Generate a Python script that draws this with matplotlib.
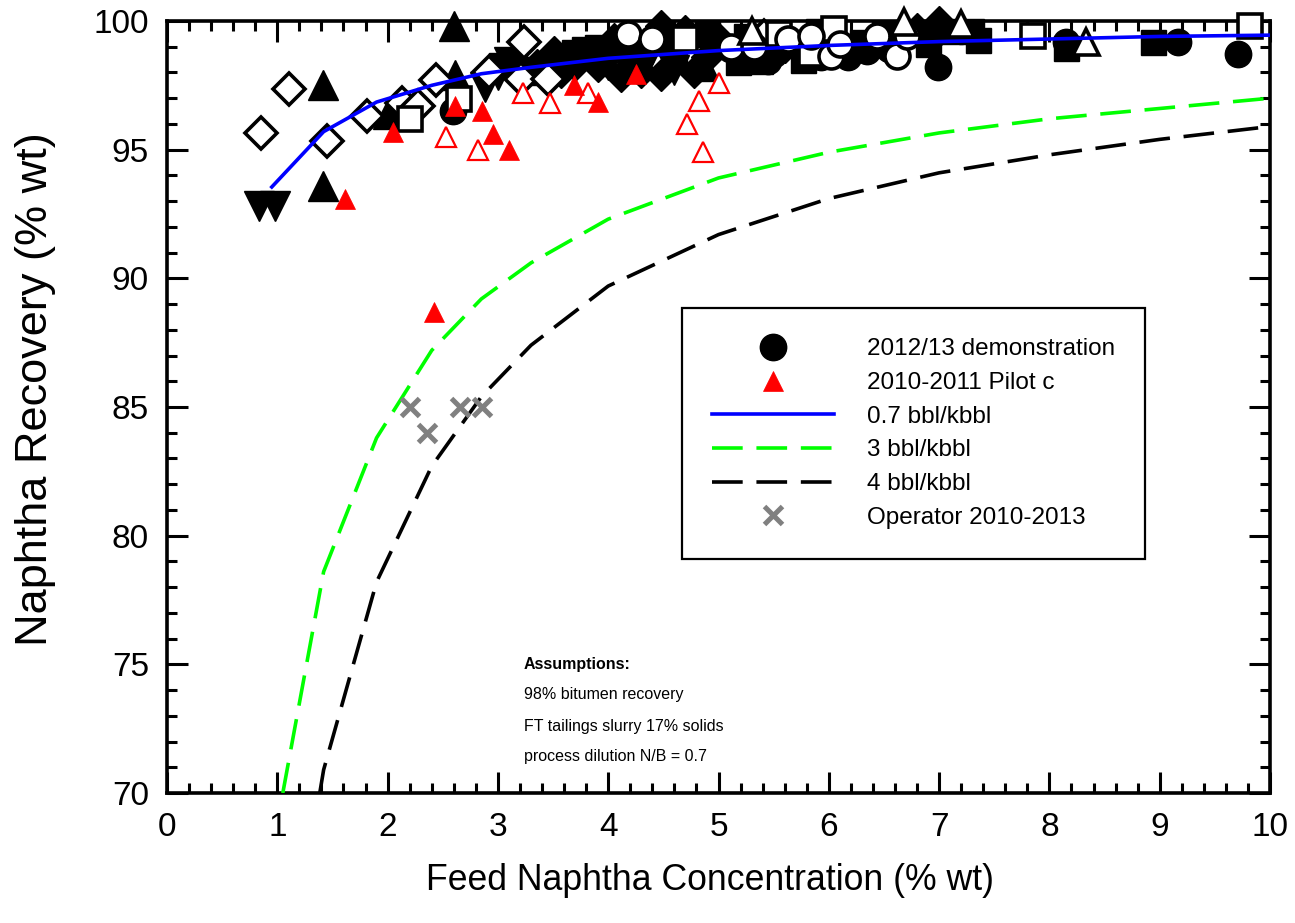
import matplotlib
matplotlib.use("Agg")
import matplotlib.pyplot as plt
from matplotlib.lines import Line2D

plt.rcParams['font.family'] = ['Liberation Sans', 'DejaVu Sans']

# ---------------- data ----------------
# model curves
blue_x = [0.95, 1.42, 1.9, 2.4, 2.85, 3.3, 4.0, 5.0, 6.0, 7.0, 8.0, 9.0, 10.0]
blue_y = [93.55, 95.7, 96.85, 97.5, 97.95, 98.2, 98.55, 98.85, 99.05, 99.2, 99.3, 99.4, 99.45]
green_x = [1.05, 1.42, 1.9, 2.4, 2.85, 3.3, 4.0, 5.0, 6.0, 7.0, 8.0, 9.0, 10.0]
green_y = [70.0, 78.6, 83.8, 87.2, 89.2, 90.6, 92.3, 93.9, 94.9, 95.65, 96.2, 96.6, 97.0]
black_x = [1.385, 1.42, 1.9, 2.4, 2.85, 3.3, 4.0, 5.0, 6.0, 7.0, 8.0, 9.0, 10.0]
black_y = [70.0, 70.9, 78.2, 82.7, 85.4, 87.4, 89.7, 91.7, 93.1, 94.1, 94.8, 95.4, 95.9]

# 2012/13 demonstration (filled circles)
demo_x = [2.59, 4.48, 5.45, 5.93, 6.17, 6.35, 6.99, 8.15, 9.17, 9.71, 4.3, 5.1, 5.5, 6.55, 4.6]
demo_y = [96.5, 99.6, 98.45, 98.6, 98.6, 98.85, 98.2, 99.2, 99.2, 98.7, 98.6, 98.9, 98.7, 98.9, 99.1]

# 2010-2011 Pilot c (red filled triangles)
pilot_x = [1.61, 2.05, 2.61, 2.86, 2.96, 3.1, 3.69, 3.91, 4.25, 2.42]
pilot_y = [93.1, 95.7, 96.7, 96.5, 95.6, 95.0, 97.5, 96.85, 97.95, 88.7]

# red open triangles
pilot_open_x = [2.53, 2.82, 3.23, 3.47, 3.82, 4.71, 4.82, 4.86, 5.0]
pilot_open_y = [95.5, 95.0, 97.2, 96.8, 97.2, 96.0, 96.9, 94.9, 97.6]

# Operator 2010-2013 (grey x)
oper_x = [2.2, 2.36, 2.66, 2.86]
oper_y = [85.0, 84.0, 85.0, 85.0]

# other black data sets
odiam_x = [0.85, 1.11, 1.45, 1.81, 2.13, 2.28, 2.44, 3.24, 3.21, 3.45, 5.41, 2.92]
odiam_y = [95.65, 97.35, 95.35, 96.3, 96.8, 96.7, 97.7, 99.2, 97.75, 97.75, 99.4, 98.0]

ftri_x = [1.41, 1.41, 2.0, 2.6, 2.61, 4.87, 3.6, 5.5]
ftri_y = [97.5, 93.6, 96.4, 99.8, 97.9, 98.25, 98.6, 99.3]

fdown_x = [0.83, 0.98, 2.88, 4.6, 4.35, 3.0, 3.2, 4.0, 3.1]
fdown_y = [92.8, 92.8, 97.45, 98.1, 98.5, 97.9, 98.0, 98.3, 98.4]

fsq_x = [3.03, 3.15, 3.69, 3.78, 5.18, 5.38, 5.77, 7.29, 7.35, 8.15, 8.94, 4.6, 6.3, 4.9, 3.35,
         4.45, 5.25, 5.9, 6.5, 6.9, 7.1, 3.9, 4.2]
fsq_y = [98.3, 98.25, 98.8, 98.9, 98.4, 98.45, 98.5, 99.6, 99.25, 98.95, 99.2, 98.7, 99.2, 99.5, 98.0,
         99.2, 99.4, 99.6, 99.5, 99.1, 99.6, 99.0, 98.9]

osq_x = [2.65, 2.2, 6.05, 5.84, 7.85, 9.82, 4.7, 5.55]
osq_y = [96.95, 96.2, 99.7, 98.7, 99.4, 99.8, 99.3, 99.5]

ocirc_x = [4.18, 5.11, 5.32, 5.63, 5.84, 6.02, 6.44, 6.62, 6.71, 4.4, 6.1]
ocirc_y = [99.5, 99.0, 99.0, 99.3, 99.4, 98.65, 99.4, 98.65, 99.4, 99.3, 99.1]

fdiam_x = [3.51, 3.57, 3.91, 4.0, 4.12, 4.21, 4.48, 4.78, 4.48, 6.95, 7.0, 4.05, 3.35, 4.7, 5.0, 6.8,
           4.9, 5.6, 3.7, 4.3, 6.4]
fdiam_y = [98.8, 98.0, 98.25, 98.9, 97.85, 98.25, 97.9, 98.0, 99.8, 99.4, 99.95, 99.3, 98.3, 99.6, 99.3, 99.7,
           98.6, 99.0, 98.3, 98.0, 99.1]

otri_x = [8.33, 6.68, 5.3, 7.2]
otri_y = [99.2, 99.95, 99.6, 99.9]

x_ticks = [0, 1, 2, 3, 4, 5, 6, 7, 8, 9, 10]
y_ticks = [70, 75, 80, 85, 90, 95, 100]

# ---------------- figure ----------------
fig = plt.figure(figsize=(12.95, 9.23), dpi=100)
ax = fig.add_axes([167/1295, 1-793/923, (1270-167)/1295, (793-21)/923])

LW = 2.6
DASH = (8.5, 3.8)

mk = dict(linestyle='none', clip_on=False)
ax.plot(fsq_x, fsq_y, marker='s', ms=18, mfc='black', mec='black', mew=1, zorder=3, **mk)
ax.plot(fdiam_x, fdiam_y, marker='D', ms=16, mfc='black', mec='black', mew=1, zorder=3, **mk)
ax.plot(ftri_x, ftri_y, marker='^', ms=21, mfc='black', mec='black', mew=1, zorder=3, **mk)
ax.plot(fdown_x, fdown_y, marker='v', ms=21, mfc='black', mec='black', mew=1, zorder=3, **mk)
ax.plot(demo_x, demo_y, marker='o', ms=19, mfc='black', mec='black', mew=1, zorder=3, **mk)
ax.plot(odiam_x, odiam_y, marker='D', ms=16.5, mfc='white', mec='black', mew=2.6, zorder=3.2, **mk)
ax.plot(osq_x, osq_y, marker='s', ms=17, mfc='white', mec='black', mew=2.6, zorder=3.2, **mk)
ax.plot(ocirc_x, ocirc_y, marker='o', ms=18, mfc='white', mec='black', mew=2.6, zorder=3.2, **mk)
ax.plot(otri_x, otri_y, marker='^', ms=19, mfc='white', mec='black', mew=2.6, zorder=3.2, **mk)

ax.plot(blue_x, blue_y, color='#0000ff', lw=LW, zorder=4)
ax.plot(green_x, green_y, color='#00ff00', lw=LW, dashes=DASH, zorder=4)
ax.plot(black_x, black_y, color='black', lw=LW, dashes=DASH, zorder=4)

ax.plot(pilot_open_x, pilot_open_y, marker='^', ms=14, mfc='white', mec='red', mew=1.6, zorder=5, **mk)
ax.plot(pilot_x, pilot_y, marker='^', ms=14, mfc='red', mec='red', mew=0.5, zorder=5, **mk)
ax.plot(oper_x, oper_y, marker='x', ms=13, mec='#808080', mew=3.6, zorder=5, **mk)

ax.set_xlim(0, 10)
ax.set_ylim(70, 100)
ax.set_xticks(x_ticks)
ax.set_yticks(y_ticks)
ax.set_xticks([i * 0.2 for i in range(51)], minor=True)
ax.set_yticks(list(range(70, 101)), minor=True)
ax.tick_params(which='both', direction='in', top=True, right=True, width=2.2, color='black')
ax.tick_params(which='major', length=15, labelsize=24)
ax.tick_params(which='minor', length=7.5)
ax.tick_params(axis='x', which='major', pad=14)
ax.tick_params(axis='y', which='major', pad=13)
for s in ax.spines.values():
    s.set_linewidth(2.6)

ax.set_xlabel('Feed Naphtha Concentration (% wt)', fontsize=25.7, va='center')
ax.xaxis.set_label_coords((710-167)/1103, (793-880)/772)
ax.set_ylabel('Naphtha Recovery (% wt)', fontsize=32.5, va='center', ha='center')
ax.yaxis.set_label_coords((36-167)/1103, (793-389)/772)

# assumptions text
def fx(px):
    return (px - 167) / 1103
def fy(py):
    return (793 - py) / 772
ax.text(fx(524), fy(665), 'Assumptions:', transform=ax.transAxes, fontsize=11.5,
        fontweight='bold', va='center', ha='left')
ax.text(fx(524), fy(695), '98% bitumen recovery', transform=ax.transAxes, fontsize=11.5,
        va='center', ha='left')
ax.text(fx(524), fy(727), 'FT tailings slurry 17% solids', transform=ax.transAxes, fontsize=11.5,
        va='center', ha='left')
ax.text(fx(524), fy(757), 'process dilution N/B = 0.7', transform=ax.transAxes, fontsize=11.5,
        va='center', ha='left')

handles = [
    Line2D([], [], linestyle='none', marker='o', ms=19, mfc='black', mec='black'),
    Line2D([], [], linestyle='none', marker='^', ms=14, mfc='red', mec='red', mew=0.5),
    Line2D([], [], color='#0000ff', lw=LW),
    Line2D([], [], color='#00ff00', lw=LW, dashes=DASH),
    Line2D([], [], color='black', lw=LW, dashes=DASH),
    Line2D([], [], linestyle='none', marker='x', ms=13, mec='#808080', mew=3.6),
]
labels = ['2012/13 demonstration', '2010-2011 Pilot c', '0.7 bbl/kbbl', '3 bbl/kbbl',
          '4 bbl/kbbl', 'Operator 2010-2013']
leg = ax.legend(handles, labels, loc='upper left',
                bbox_to_anchor=(682/1295, 1-308/923), bbox_transform=fig.transFigure,
                fontsize=17.5, frameon=True, fancybox=False, framealpha=1,
                edgecolor='black', handlelength=5.0, handletextpad=1.35,
                labelspacing=0.48, borderpad=1.25, borderaxespad=0)
leg.get_frame().set_linewidth(1.6)
leg.set_zorder(6)

fig.savefig('out.png', dpi=100)
